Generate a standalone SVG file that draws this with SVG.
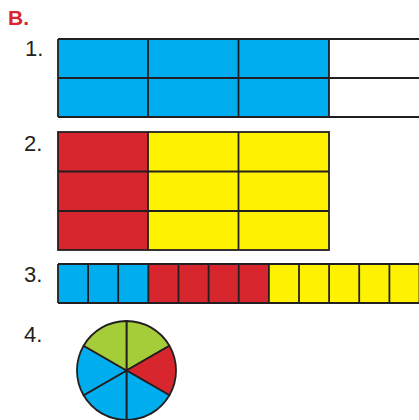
<svg xmlns="http://www.w3.org/2000/svg" width="419" height="420" viewBox="0 0 419 420">
<style>
.lbl{font-family:"Liberation Sans","Open Sans",sans-serif;font-size:22px;fill:#231f20}
.hd{font-family:"Liberation Sans","Open Sans",sans-serif;font-size:21px;font-weight:bold;fill:#d7262e}
.c{stroke:#231f20;stroke-width:1.8}
.b{fill:#00aeef}.r{fill:#d7262e}.y{fill:#fff200}.g{fill:#a5cd39}.w{fill:#ffffff}
</style>
<rect width="419" height="420" fill="#fff"/>
<text class="hd" x="8" y="25">B.</text>
<g id="item1">
<text class="lbl" x="25" y="56">1.</text>
<rect class="b" x="58" y="39" width="271" height="78"/>
<g class="c" fill="none">
<line x1="58" y1="39" x2="420" y2="39"/>
<line x1="58" y1="78" x2="420" y2="78"/>
<line x1="58" y1="117" x2="420" y2="117"/>
<line x1="58" y1="39" x2="58" y2="117"/>
<line x1="148" y1="39" x2="148" y2="117"/>
<line x1="238.5" y1="39" x2="238.5" y2="117"/>
<line x1="329" y1="39" x2="329" y2="117"/>
</g>
</g>
<g id="item2">
<text class="lbl" x="24" y="151">2.</text>
<rect class="r" x="58" y="132" width="90" height="118"/>
<rect class="y" x="148" y="132" width="181" height="118"/>
<g class="c" fill="none">
<rect x="58" y="132" width="271" height="118"/>
<line x1="58" y1="171.5" x2="329" y2="171.5"/>
<line x1="58" y1="211" x2="329" y2="211"/>
<line x1="148" y1="132" x2="148" y2="250"/>
<line x1="238.5" y1="132" x2="238.5" y2="250"/>
</g>
</g>
<g id="item3">
<text class="lbl" x="24" y="282">3.</text>
<rect class="b" x="58" y="264" width="90.3" height="39"/>
<rect class="r" x="148.3" y="264" width="120.6" height="39"/>
<rect class="y" x="268.9" y="264" width="152" height="39"/>
<g class="c" fill="none">
<line x1="58" y1="264" x2="420" y2="264"/>
<line x1="58" y1="303" x2="420" y2="303"/>
<line x1="58" y1="264" x2="58" y2="303"/>
<line x1="88.1" y1="264" x2="88.1" y2="303"/>
<line x1="118.2" y1="264" x2="118.2" y2="303"/>
<line x1="148.3" y1="264" x2="148.3" y2="303"/>
<line x1="178.5" y1="264" x2="178.5" y2="303"/>
<line x1="208.6" y1="264" x2="208.6" y2="303"/>
<line x1="238.7" y1="264" x2="238.7" y2="303"/>
<line x1="268.9" y1="264" x2="268.9" y2="303"/>
<line x1="299" y1="264" x2="299" y2="303"/>
<line x1="329.1" y1="264" x2="329.1" y2="303"/>
<line x1="359.2" y1="264" x2="359.2" y2="303"/>
<line x1="389.4" y1="264" x2="389.4" y2="303"/>
<line x1="419.5" y1="264" x2="419.5" y2="303"/>
</g>
</g>
<g id="item4">
<text class="lbl" x="24" y="342">4.</text>
<g class="c" stroke-linejoin="round">
<path class="g" d="M126.5,370.5 L126.5,321 A49.5,49.5 0 0 1 169.4,345.75 Z"/>
<path class="r" d="M126.5,370.5 L169.4,345.75 A49.5,49.5 0 0 1 169.4,395.25 Z"/>
<path class="b" d="M126.5,370.5 L169.4,395.25 A49.5,49.5 0 0 1 126.5,420 Z"/>
<path class="b" d="M126.5,370.5 L126.5,420 A49.5,49.5 0 0 1 83.6,395.25 Z"/>
<path class="b" d="M126.5,370.5 L83.6,395.25 A49.5,49.5 0 0 1 83.6,345.75 Z"/>
<path class="g" d="M126.5,370.5 L83.6,345.75 A49.5,49.5 0 0 1 126.5,321 Z"/>
</g>
</g>
</svg>
